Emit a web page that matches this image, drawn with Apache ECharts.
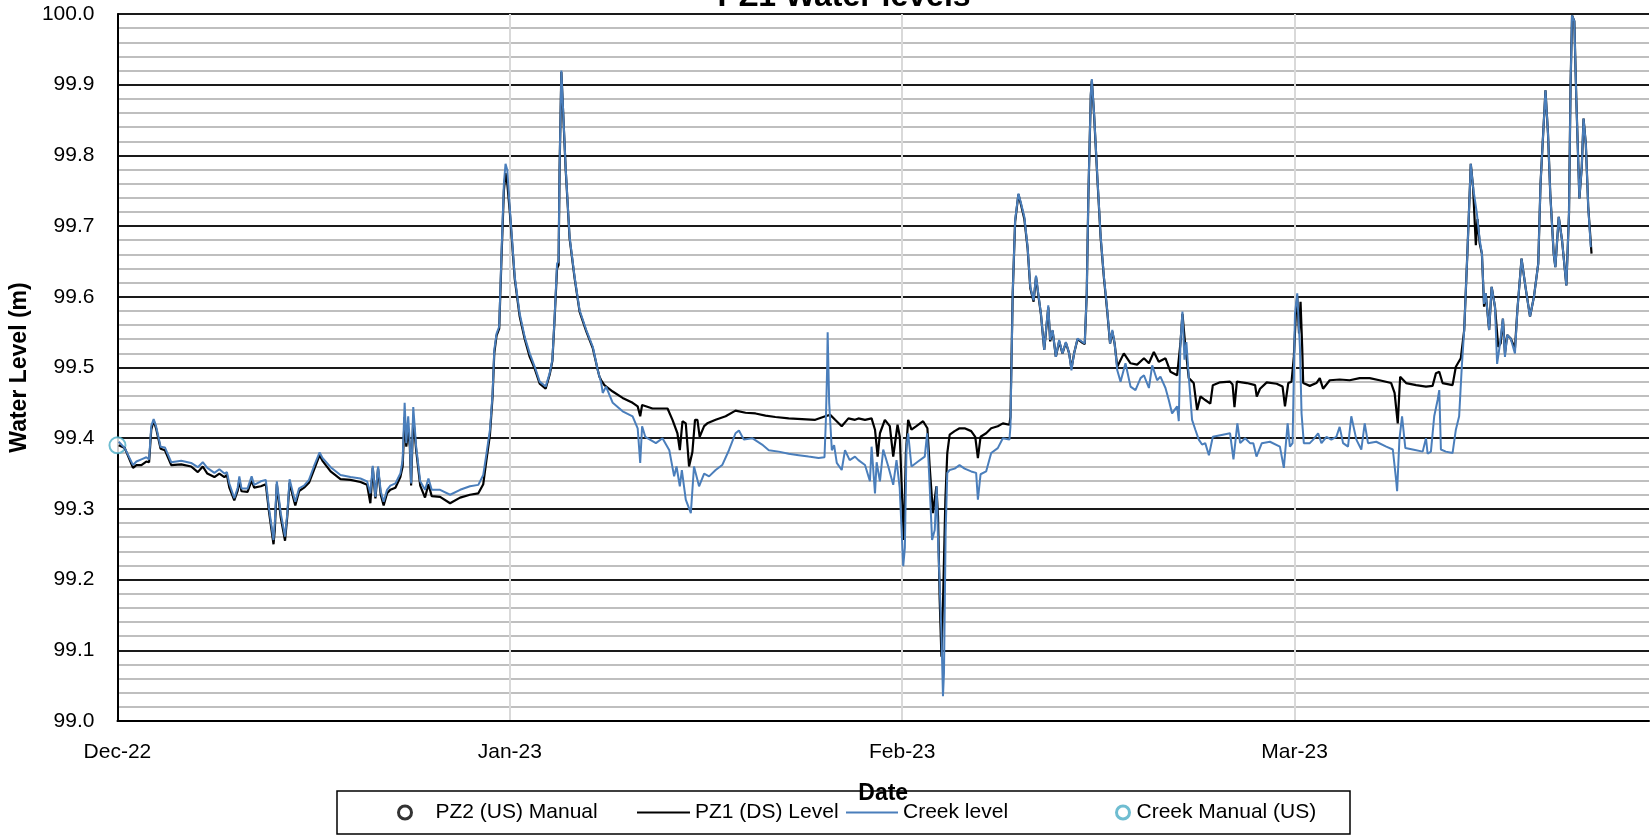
<!DOCTYPE html>
<html>
<head>
<meta charset="utf-8">
<script src="https://cdn.jsdelivr.net/npm/echarts@6/dist/echarts.min.js"></script>
<style>
  html, body { margin: 0; padding: 0; background: #fff; }
  #chart { width: 1652px; height: 835px; }
</style>
</head>
<body>
<div id="chart"></div>
<script>
// x = days since 1 Dec 2022, Excel date axis with a 31 day major unit
const tickDays = [0, 31, 62, 93]
const tickLabels = ['Dec-22', 'Jan-23', 'Feb-23', 'Mar-23']

// PZ1 (DS) Level, logger record [day, level m]
const pz1Level = [
  [0.1, 99.39], [0.58, 99.386], [1.23, 99.358], [1.5, 99.362], [1.89, 99.362], [2.28, 99.367], [2.5, 99.366],
  [2.67, 99.412], [2.86, 99.425], [3.05, 99.414], [3.41, 99.385], [3.75, 99.383], [4.25, 99.362], [5.04, 99.363],
  [5.82, 99.36], [6.35, 99.352], [6.74, 99.36], [7.1, 99.35], [7.66, 99.345], [8.05, 99.35], [8.45, 99.345],
  [8.65, 99.348], [8.84, 99.33], [9.23, 99.312], [9.5, 99.326], [9.63, 99.34], [9.8, 99.325], [10.28, 99.324],
  [10.6, 99.34], [10.8, 99.33], [11.33, 99.332], [11.72, 99.335], [11.98, 99.295], [12.33, 99.25], [12.43, 99.27],
  [12.59, 99.335], [12.9, 99.288], [13.24, 99.255], [13.42, 99.29], [13.6, 99.337], [13.9, 99.315], [14.05, 99.305],
  [14.35, 99.325], [14.74, 99.33], [15.13, 99.337], [15.52, 99.355], [15.97, 99.376], [16.2, 99.368], [16.84, 99.353],
  [17.62, 99.342], [18.41, 99.341], [19.2, 99.338], [19.72, 99.334], [19.98, 99.308], [20.17, 99.358], [20.38, 99.315],
  [20.59, 99.357], [20.8, 99.32], [21.03, 99.305], [21.3, 99.322], [21.56, 99.327], [21.96, 99.33], [22.35, 99.345],
  [22.53, 99.36], [22.69, 99.43], [22.82, 99.388], [22.97, 99.41], [23.1, 99.388], [23.2, 99.333], [23.37, 99.43],
  [23.6, 99.383], [23.92, 99.333], [24.3, 99.316], [24.57, 99.335], [24.83, 99.318], [25.49, 99.317], [26.28, 99.308],
  [27.07, 99.316], [27.85, 99.32], [28.51, 99.322], [28.9, 99.335], [29.16, 99.37], [29.43, 99.405], [29.64, 99.46],
  [29.77, 99.52], [29.95, 99.545], [30.16, 99.555], [30.35, 99.66], [30.53, 99.75], [30.66, 99.775], [30.8, 99.76],
  [30.99, 99.722], [31.39, 99.625], [31.78, 99.572], [32.18, 99.54], [32.57, 99.515], [32.97, 99.498], [33.36, 99.477],
  [33.83, 99.47], [34.15, 99.49], [34.36, 99.509], [34.54, 99.57], [34.73, 99.64], [34.85, 99.645], [34.93, 99.78],
  [35.07, 99.918], [35.2, 99.866], [35.41, 99.781], [35.72, 99.683], [36.12, 99.626], [36.51, 99.579], [37.04, 99.551],
  [37.56, 99.527], [37.95, 99.496], [38.08, 99.487], [38.22, 99.482], [38.47, 99.475], [39.13, 99.466], [39.91, 99.457],
  [40.7, 99.45], [41.1, 99.445], [41.3, 99.431], [41.45, 99.447], [42.27, 99.442], [42.8, 99.442], [43.46, 99.442],
  [43.85, 99.426], [44.24, 99.407], [44.43, 99.383], [44.64, 99.424], [44.9, 99.421], [45.16, 99.36], [45.42, 99.38],
  [45.63, 99.426], [45.82, 99.426], [46.0, 99.402], [46.35, 99.417], [46.6, 99.421], [47.26, 99.426], [48.05, 99.431],
  [48.83, 99.439], [49.62, 99.436], [50.41, 99.435], [51.2, 99.432], [51.98, 99.43], [53.03, 99.428], [54.08, 99.427],
  [55.13, 99.426], [55.92, 99.431], [56.31, 99.433], [56.7, 99.426], [57.22, 99.417], [57.75, 99.428], [58.27, 99.426],
  [58.54, 99.428], [59.06, 99.426], [59.58, 99.428], [59.85, 99.412], [60.06, 99.374], [60.24, 99.407], [60.63, 99.426],
  [61.02, 99.417], [61.29, 99.374], [61.63, 99.419], [61.81, 99.402], [62.0, 99.313], [62.13, 99.256], [62.29, 99.379],
  [62.47, 99.426], [62.73, 99.412], [63.12, 99.417], [63.65, 99.424], [63.99, 99.414], [64.17, 99.36], [64.43, 99.294],
  [64.7, 99.332], [64.83, 99.289], [64.96, 99.172], [65.1, 99.091], [65.23, 99.172], [65.41, 99.313], [65.56, 99.379],
  [65.75, 99.405], [66.14, 99.41], [66.53, 99.414], [66.93, 99.414], [67.45, 99.41], [67.77, 99.402], [67.98, 99.372],
  [68.19, 99.402], [68.63, 99.407], [69.03, 99.414], [69.55, 99.417], [69.95, 99.421], [70.47, 99.419], [70.55, 99.43],
  [70.73, 99.605], [70.92, 99.706], [71.18, 99.745], [71.39, 99.73], [71.65, 99.71], [71.91, 99.668], [72.12, 99.612],
  [72.38, 99.593], [72.57, 99.628], [72.75, 99.603], [72.96, 99.575], [73.22, 99.525], [73.54, 99.585], [73.69, 99.537],
  [73.88, 99.552], [74.14, 99.515], [74.4, 99.537], [74.66, 99.52], [74.93, 99.535], [75.19, 99.52], [75.37, 99.498],
  [75.58, 99.52], [75.85, 99.54], [76.24, 99.535], [76.42, 99.533], [76.58, 99.605], [76.71, 99.745], [76.9, 99.885],
  [76.98, 99.906], [77.16, 99.857], [77.42, 99.767], [77.68, 99.683], [77.94, 99.626], [78.2, 99.579], [78.42, 99.534],
  [78.6, 99.551], [78.78, 99.534], [78.99, 99.501], [79.51, 99.52], [80.04, 99.506], [80.56, 99.504], [81.1, 99.513],
  [81.49, 99.506], [81.88, 99.522], [82.27, 99.508], [82.8, 99.513], [83.19, 99.494], [83.72, 99.489], [83.85, 99.489],
  [83.98, 99.534], [84.14, 99.576], [84.37, 99.53], [84.64, 99.485], [85.03, 99.478], [85.3, 99.44], [85.56, 99.459],
  [85.94, 99.454], [86.34, 99.449], [86.54, 99.475], [87.11, 99.479], [87.9, 99.48], [88.1, 99.476], [88.25, 99.444],
  [88.44, 99.48], [89.22, 99.478], [89.88, 99.475], [90.01, 99.459], [90.27, 99.47], [90.8, 99.479], [91.58, 99.477],
  [92.05, 99.473], [92.24, 99.445], [92.5, 99.478], [92.76, 99.48], [92.94, 99.515], [93.1, 99.576], [93.21, 99.6],
  [93.35, 99.548], [93.47, 99.593], [93.6, 99.529], [93.68, 99.478], [94.2, 99.474], [94.72, 99.478], [94.99, 99.485],
  [95.25, 99.47], [95.78, 99.482], [96.56, 99.483], [97.35, 99.482], [98.14, 99.485], [98.93, 99.485], [99.71, 99.482],
  [100.63, 99.478], [100.9, 99.464], [101.15, 99.421], [101.34, 99.487], [101.81, 99.478], [102.6, 99.475], [103.38, 99.473],
  [103.9, 99.474], [104.17, 99.492], [104.43, 99.494], [104.69, 99.478], [105.48, 99.475], [105.74, 99.501], [106.13, 99.513],
  [106.4, 99.553], [106.66, 99.666], [106.92, 99.788], [107.1, 99.755], [107.32, 99.673], [107.45, 99.71], [107.63, 99.675],
  [107.8, 99.661], [107.97, 99.586], [108.1, 99.605], [108.37, 99.553], [108.57, 99.614], [108.83, 99.586], [109.09, 99.529],
  [109.28, 99.534], [109.46, 99.569], [109.62, 99.52], [109.8, 99.546], [110.07, 99.541], [110.41, 99.527], [110.6, 99.581],
  [110.93, 99.654], [111.24, 99.614], [111.6, 99.572], [111.91, 99.6], [112.25, 99.647], [112.43, 99.76], [112.82, 99.892],
  [113.02, 99.831], [113.2, 99.746], [113.47, 99.661], [113.6, 99.642], [113.87, 99.713], [114.13, 99.68], [114.47, 99.616],
  [114.68, 99.718], [114.8, 99.896], [114.92, 99.998], [115.1, 99.99], [115.26, 99.878], [115.5, 99.739], [115.69, 99.784],
  [115.83, 99.852], [116.01, 99.816], [116.2, 99.727], [116.46, 99.661]
]

// Creek level, logger record [day, level m]
const creekLevel = [
  [0.1, 99.395], [0.58, 99.386], [1.23, 99.362], [1.5, 99.367], [1.89, 99.37], [2.28, 99.373], [2.5, 99.37],
  [2.67, 99.417], [2.86, 99.427], [3.05, 99.417], [3.41, 99.388], [3.75, 99.387], [4.25, 99.366], [5.04, 99.368],
  [5.82, 99.365], [6.35, 99.359], [6.74, 99.366], [7.1, 99.358], [7.66, 99.351], [8.05, 99.356], [8.45, 99.35],
  [8.65, 99.352], [8.84, 99.336], [9.23, 99.315], [9.5, 99.33], [9.63, 99.346], [9.8, 99.329], [10.28, 99.329],
  [10.6, 99.346], [10.8, 99.334], [11.33, 99.339], [11.72, 99.341], [11.98, 99.3], [12.33, 99.256], [12.43, 99.28],
  [12.59, 99.339], [12.9, 99.294], [13.24, 99.261], [13.42, 99.294], [13.6, 99.342], [13.9, 99.32], [14.05, 99.31],
  [14.35, 99.329], [14.74, 99.333], [15.13, 99.341], [15.52, 99.36], [15.97, 99.38], [16.2, 99.372], [16.84, 99.359],
  [17.62, 99.348], [18.41, 99.345], [19.2, 99.343], [19.72, 99.339], [19.98, 99.322], [20.17, 99.361], [20.38, 99.317],
  [20.59, 99.36], [20.8, 99.325], [21.03, 99.31], [21.3, 99.327], [21.56, 99.333], [21.96, 99.336], [22.35, 99.35],
  [22.53, 99.369], [22.69, 99.45], [22.82, 99.393], [22.97, 99.431], [23.1, 99.393], [23.2, 99.336], [23.37, 99.444],
  [23.6, 99.388], [23.92, 99.339], [24.3, 99.327], [24.57, 99.343], [24.83, 99.327], [25.49, 99.327], [26.28, 99.32],
  [27.07, 99.327], [27.85, 99.332], [28.51, 99.334], [28.9, 99.348], [29.16, 99.379], [29.43, 99.412], [29.64, 99.464],
  [29.77, 99.525], [29.95, 99.548], [30.16, 99.558], [30.35, 99.666], [30.53, 99.76], [30.66, 99.788], [30.8, 99.779],
  [30.99, 99.727], [31.39, 99.628], [31.78, 99.576], [32.18, 99.543], [32.57, 99.52], [32.97, 99.501], [33.36, 99.48],
  [33.83, 99.473], [34.15, 99.492], [34.36, 99.511], [34.54, 99.572], [34.73, 99.647], [34.85, 99.65], [34.93, 99.783],
  [35.07, 99.92], [35.2, 99.868], [35.41, 99.783], [35.72, 99.685], [36.12, 99.628], [36.51, 99.581], [37.04, 99.553],
  [37.56, 99.529], [37.95, 99.496], [38.22, 99.478], [38.34, 99.464], [38.6, 99.473], [39.13, 99.45], [39.91, 99.438],
  [40.7, 99.431], [41.1, 99.414], [41.3, 99.365], [41.45, 99.417], [41.7, 99.402], [42.54, 99.393], [43.06, 99.4],
  [43.6, 99.383], [43.98, 99.346], [44.17, 99.36], [44.43, 99.332], [44.59, 99.355], [44.9, 99.313], [45.3, 99.294],
  [45.55, 99.36], [45.95, 99.332], [46.35, 99.35], [46.74, 99.346], [47.26, 99.355], [47.78, 99.362], [48.31, 99.383],
  [48.83, 99.407], [49.1, 99.411], [49.49, 99.398], [50.15, 99.4], [50.93, 99.391], [51.46, 99.383], [52.24, 99.381],
  [53.03, 99.378], [53.82, 99.376], [54.6, 99.374], [55.39, 99.372], [55.86, 99.373], [55.97, 99.426], [56.07, 99.5],
  [56.11, 99.55], [56.17, 99.5], [56.23, 99.45], [56.44, 99.383], [56.62, 99.39], [56.83, 99.365], [57.22, 99.355],
  [57.48, 99.383], [57.85, 99.369], [58.27, 99.374], [58.54, 99.369], [59.06, 99.362], [59.45, 99.339], [59.58, 99.388],
  [59.85, 99.322], [59.98, 99.366], [60.24, 99.339], [60.5, 99.384], [60.9, 99.36], [61.29, 99.334], [61.55, 99.369],
  [61.8, 99.33], [61.94, 99.275], [62.08, 99.219], [62.21, 99.245], [62.34, 99.388], [62.47, 99.407], [62.73, 99.36],
  [63.25, 99.367], [63.78, 99.374], [63.97, 99.407], [64.12, 99.352], [64.36, 99.256], [64.57, 99.27], [64.72, 99.332],
  [64.83, 99.256], [65.1, 99.124], [65.22, 99.035], [65.3, 99.068], [65.43, 99.266], [65.56, 99.351], [65.75, 99.355],
  [66.14, 99.357], [66.53, 99.362], [66.93, 99.357], [67.45, 99.353], [67.84, 99.351], [67.98, 99.313], [68.19, 99.349],
  [68.63, 99.353], [69.03, 99.379], [69.55, 99.386], [69.95, 99.4], [70.47, 99.398], [70.55, 99.416], [70.73, 99.605],
  [70.92, 99.708], [71.18, 99.746], [71.39, 99.732], [71.65, 99.713], [71.91, 99.67], [72.12, 99.614], [72.38, 99.595],
  [72.57, 99.63], [72.75, 99.605], [72.96, 99.576], [73.22, 99.525], [73.54, 99.588], [73.69, 99.539], [73.88, 99.553],
  [74.14, 99.515], [74.4, 99.539], [74.66, 99.52], [74.93, 99.536], [75.19, 99.52], [75.37, 99.496], [75.58, 99.52],
  [75.85, 99.541], [76.24, 99.536], [76.42, 99.534], [76.58, 99.605], [76.71, 99.746], [76.9, 99.887], [76.98, 99.908],
  [77.16, 99.859], [77.42, 99.769], [77.68, 99.685], [77.94, 99.628], [78.2, 99.581], [78.42, 99.534], [78.6, 99.553],
  [78.78, 99.534], [78.99, 99.496], [79.25, 99.48], [79.64, 99.506], [80.04, 99.473], [80.43, 99.468], [80.83, 99.485],
  [81.1, 99.489], [81.49, 99.471], [81.75, 99.503], [82.14, 99.482], [82.4, 99.487], [82.8, 99.471], [83.06, 99.454],
  [83.32, 99.435], [83.72, 99.445], [83.85, 99.424], [83.98, 99.534], [84.14, 99.579], [84.3, 99.511], [84.45, 99.536],
  [84.64, 99.487], [84.9, 99.426], [85.16, 99.412], [85.43, 99.398], [85.69, 99.391], [85.94, 99.393], [86.23, 99.376],
  [86.54, 99.402], [87.33, 99.405], [87.9, 99.407], [88.17, 99.37], [88.48, 99.421], [88.7, 99.393], [89.09, 99.4],
  [89.48, 99.393], [89.74, 99.393], [89.99, 99.374], [90.41, 99.393], [91.05, 99.395], [91.84, 99.388], [92.15, 99.358],
  [92.45, 99.421], [92.63, 99.388], [92.84, 99.393], [93.03, 99.576], [93.21, 99.605], [93.42, 99.529], [93.55, 99.435],
  [93.73, 99.393], [94.2, 99.393], [94.47, 99.398], [94.86, 99.407], [95.12, 99.393], [95.52, 99.402], [95.9, 99.398],
  [96.3, 99.402], [96.56, 99.416], [96.83, 99.393], [97.22, 99.388], [97.48, 99.431], [97.88, 99.398], [98.27, 99.384],
  [98.54, 99.421], [98.8, 99.393], [99.45, 99.395], [100.24, 99.388], [100.76, 99.384], [101.02, 99.341], [101.1, 99.325],
  [101.28, 99.398], [101.49, 99.431], [101.75, 99.386], [102.33, 99.384], [103.12, 99.381], [103.38, 99.4], [103.51, 99.378],
  [103.77, 99.381], [104.03, 99.431], [104.3, 99.454], [104.43, 99.468], [104.56, 99.384], [104.95, 99.381], [105.48, 99.379],
  [105.74, 99.412], [106.0, 99.431], [106.21, 99.501], [106.4, 99.553], [106.66, 99.666], [106.92, 99.788], [107.1, 99.755],
  [107.4, 99.718], [107.63, 99.68], [107.8, 99.661], [107.97, 99.59], [108.1, 99.605], [108.37, 99.553], [108.57, 99.614],
  [108.83, 99.586], [109.0, 99.505], [109.2, 99.53], [109.46, 99.569], [109.62, 99.515], [109.8, 99.546], [110.07, 99.541],
  [110.41, 99.52], [110.6, 99.581], [110.93, 99.654], [111.24, 99.614], [111.6, 99.572], [111.91, 99.6], [112.25, 99.647],
  [112.43, 99.76], [112.82, 99.892], [113.02, 99.831], [113.2, 99.746], [113.47, 99.661], [113.6, 99.642], [113.87, 99.713],
  [114.13, 99.68], [114.47, 99.616], [114.68, 99.718], [114.8, 99.896], [114.92, 99.998], [115.1, 99.99], [115.26, 99.878],
  [115.5, 99.739], [115.69, 99.784], [115.83, 99.852], [116.01, 99.816], [116.2, 99.727], [116.4, 99.67]
]

// manual dips
const pz2Manual = []
const creekManual = [[0, 99.39]]

const chart = echarts.init(document.getElementById('chart'))

const font = 'Liberation Sans'

// every 0.1 m black, the 0.02 m lines between grey
const gridColors = ['#1a1a1a', '#bfbfbf', '#bfbfbf', '#bfbfbf', '#bfbfbf']

const legendText = { fontFamily: font, fontSize: 21, color: '#000' }

const option = {
  animation: false,
  backgroundColor: '#fff',

  graphic: [
    {
      type: 'text',
      x: 844,
      y: 13,
      style: {
        text: 'PZ1 Water levels',
        font: 'bold 32px "Liberation Sans"',
        fill: '#000',
        textAlign: 'center',
        textVerticalAlign: 'bottom'
      }
    },
    {
      type: 'rect',
      shape: { x: 337, y: 791, width: 1013, height: 43 },
      style: { fill: 'none', stroke: '#000', lineWidth: 1.5 }
    }
  ],

  grid: {
    left: 116,
    right: 0,
    top: 14,
    bottom: 114
  },

  legend: [
    {
      left: 397, top: 802, padding: 0, selectedMode: false,
      itemWidth: 13, itemHeight: 13, icon: 'circle',
      itemStyle: { color: '#fff', borderColor: '#000', borderWidth: 3 },
      textStyle: { ...legendText, padding: [0, 0, 0, 19] },
      data: ['PZ2 (US) Manual']
    },
    {
      left: 637, top: 802, padding: 0, selectedMode: false,
      itemWidth: 53, itemHeight: 2, icon: 'rect',
      itemStyle: { color: '#000', borderWidth: 0 },
      textStyle: legendText,
      data: ['PZ1 (DS) Level']
    },
    {
      left: 846, top: 802, padding: 0, selectedMode: false,
      itemWidth: 52, itemHeight: 2, icon: 'rect',
      itemStyle: { color: '#4a7ebb', borderWidth: 0 },
      textStyle: legendText,
      data: ['Creek level']
    },
    {
      left: 1115, top: 802, padding: 0, selectedMode: false,
      itemWidth: 13, itemHeight: 13, icon: 'circle',
      itemStyle: { color: '#fff', borderColor: '#4bacc6', borderWidth: 3 },
      textStyle: { ...legendText, padding: [0, 0, 0, 2] },
      data: ['Creek Manual (US)']
    }
  ],

  xAxis: {
    type: 'value',
    min: 0,
    max: 121,
    interval: 31,
    name: 'Date',
    nameLocation: 'middle',
    nameGap: 61,
    nameTextStyle: { fontFamily: font, fontSize: 23, fontWeight: 'bold', color: '#000' },
    axisLine: { lineStyle: { color: '#000', width: 2 } },
    axisTick: { show: false },
    axisLabel: {
      margin: 21,
      fontFamily: font,
      fontSize: 21,
      color: '#000',
      formatter: v => {
        const i = tickDays.indexOf(v)
        return i >= 0 ? tickLabels[i] : ''
      }
    },
    splitLine: { show: true, showMaxLine: false, lineStyle: { color: '#d9d9d9', width: 2 } }
  },

  yAxis: {
    type: 'value',
    min: 99,
    max: 100,
    interval: 0.02,
    name: 'Water Level (m)',
    nameLocation: 'middle',
    nameGap: 86,
    nameTextStyle: { fontFamily: font, fontSize: 23, fontWeight: 'bold', color: '#000' },
    axisLine: { show: true, lineStyle: { color: '#000', width: 2 } },
    axisTick: { show: false },
    axisLabel: {
      margin: 23,
      fontFamily: font,
      fontSize: 21,
      color: '#000',
      formatter: v => (Math.round(v * 100) % 10 === 0 ? v.toFixed(1) : '')
    },
    splitLine: { lineStyle: { color: gridColors, width: 2 } }
  },

  series: [
    {
      name: 'PZ2 (US) Manual',
      type: 'scatter',
      symbol: 'emptyCircle',
      symbolSize: 15,
      itemStyle: { color: '#000', borderWidth: 2.5 },
      data: pz2Manual
    },
    {
      name: 'PZ1 (DS) Level',
      type: 'line',
      symbol: 'none',
      lineStyle: { color: '#000', width: 2.2 },
      itemStyle: { color: '#000' },
      data: pz1Level
    },
    {
      name: 'Creek level',
      type: 'line',
      symbol: 'none',
      lineStyle: { color: '#4a7ebb', width: 2 },
      itemStyle: { color: '#4a7ebb' },
      data: creekLevel
    },
    {
      name: 'Creek Manual (US)',
      type: 'scatter',
      symbol: 'emptyCircle',
      symbolSize: 16,
      itemStyle: { color: '#4bacc6', borderWidth: 2.5 },
      data: creekManual
    }
  ]
}

chart.setOption(option)

window.addEventListener('resize', () => chart.resize())
</script>
</body>
</html>
